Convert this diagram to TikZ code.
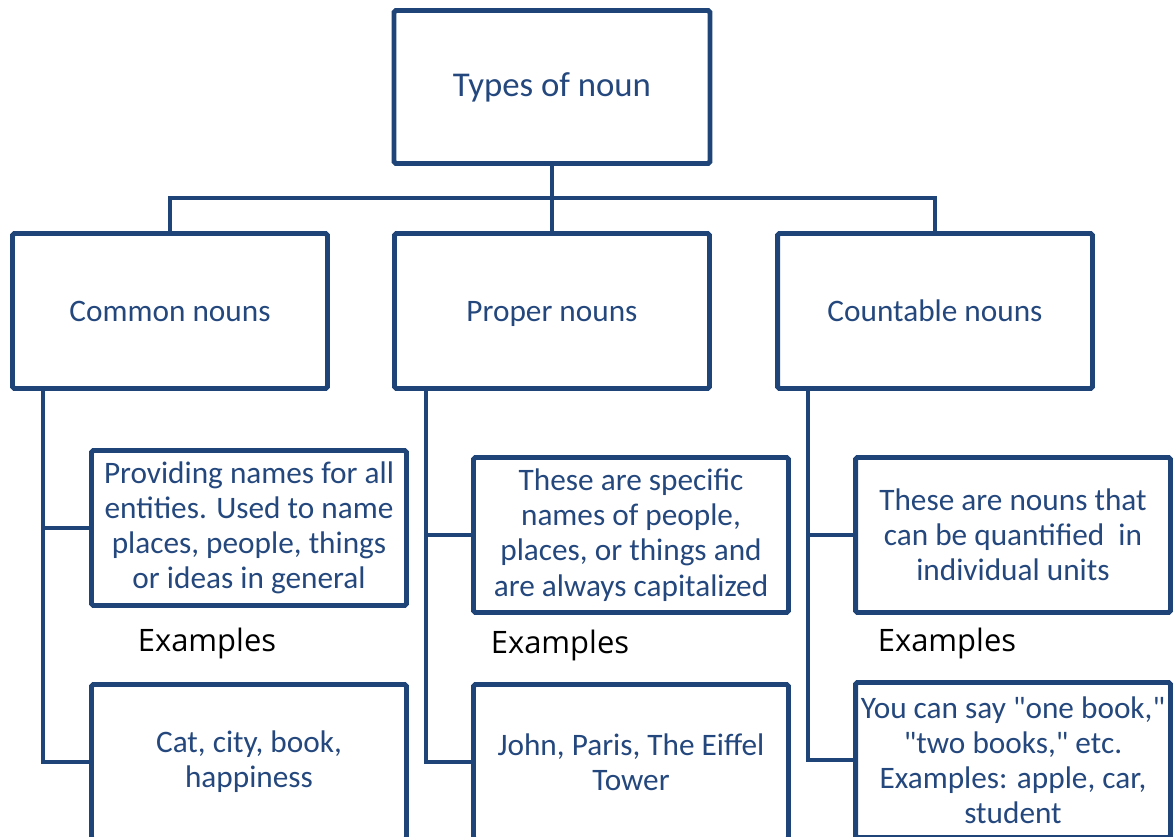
\documentclass[tikz,border=0pt]{standalone}
\usepackage{fontspec}
\setmainfont{Carlito}[Ligatures=TeXOff]
\newfontfamily\exfont{Open Sans}
\definecolor{nounblue}{RGB}{31,68,120}
\definecolor{nountext}{RGB}{36,72,125}

\begin{document}
\begin{tikzpicture}[x=0.02cm, y=-0.02cm,
    boxTop/.style={rectangle, rounded corners=1pt, draw=nounblue, line width=2.8pt, text=nountext, font=\fontsize{19.8}{23}\selectfont, minimum width=6.32cm, minimum height=3.06cm, inner sep=0pt},
    boxBase/.style={rectangle, rounded corners=1pt, draw=nounblue, line width=2.8pt, text=nountext, font=\fontsize{17.8}{20}\selectfont, minimum width=6.3cm, minimum height=3.1cm, inner sep=0pt},
    boxCat/.style={boxBase, text height=11.6pt, text depth=0pt},
    boxDesc/.style={boxBase, align=center},
    exLabel/.style={font=\exfont\fontsize{17.6}{20}\selectfont, text=black, inner sep=0pt},
    link/.style={draw=nounblue, line width=2.8pt}]

    \useasboundingbox (0,0) rectangle (1173,837);
    \clip (0,0) rectangle (1173,837);

    % Top box
    \node[boxTop] (types) at (552, 87) {Types of noun};

    % Second row (kinds of noun)
    \node[boxCat] (common) at (170, 311) {Common nouns};
    \node[boxCat] (proper) at (552, 311) {Proper nouns};
    \node[boxCat] (countable) at (935, 311) {Countable nouns};

    % Descriptions
    \node[boxDesc] (commonDesc) at (249, 528) {Providing names for all\\entities. Used to name\\places, people, things\\or ideas in general};
    \node[boxDesc] (properDesc) at (631, 535) {These are specific\\names of people,\\places, or things and\\are always capitalized};
    \node[boxDesc] (countDesc) at (1013, 535) {These are nouns that\\can be quantified\ \ in\\individual units};

    % Examples labels
    \node[exLabel] (commonEx) at (207, 643) {Examples};
    \node[exLabel] (properEx) at (560, 645) {Examples};
    \node[exLabel] (countEx) at (947, 643) {Examples};

    % Example boxes (cut off at the bottom)
    \node[boxDesc] (commonList) at (249, 762) {Cat, city, book,\\happiness};
    \node[boxDesc] (properList) at (631, 762) {John, Paris, The Eiffel\\Tower};
    \node[boxDesc] (countList) at (1013, 760) {You can say "one book,"\\"two books," etc.\\Examples: apple, car,\\student};

    % Bus from the top box
    \coordinate (bus) at (552, 198);
    \draw[link] (types.south) -- (bus);
    \draw[link] (common.north) |- (bus) -| (countable.north);
    \draw[link] (bus) -- (proper.north);

    % Trunks down each column
    \coordinate (commonTrunk) at (43, 389);
    \coordinate (properTrunk) at (426, 389);
    \coordinate (countTrunk) at (808, 389);

    \draw[link] (commonTrunk) |- (commonList.west);
    \draw[link] (commonDesc.west) -- (commonDesc.west -| commonTrunk);

    \draw[link] (properTrunk) |- (properList.west);
    \draw[link] (properDesc.west) -- (properDesc.west -| properTrunk);

    \draw[link] (countTrunk) |- (countList.west);
    \draw[link] (countDesc.west) -- (countDesc.west -| countTrunk);

\end{tikzpicture}
\end{document}
